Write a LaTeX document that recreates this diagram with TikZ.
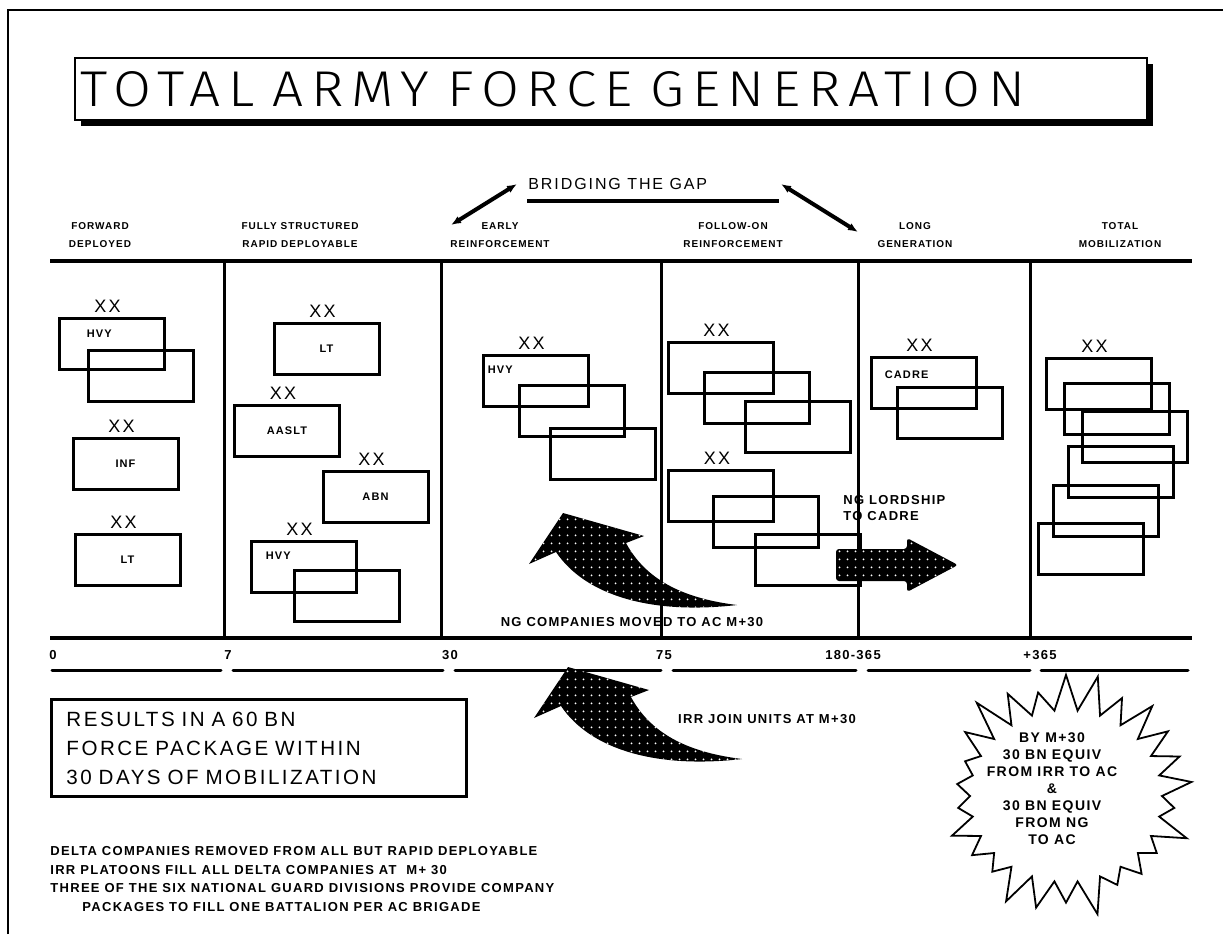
\documentclass[tikz,border=0pt]{standalone}
\usepackage{fontspec}
\usepackage{graphicx}
\setmainfont{Liberation Sans}
\newfontfamily\widefont[LetterSpace=12]{Liberation Sans}
\newfontfamily\notefont[LetterSpace=10]{Liberation Sans}
\newfontfamily\titlefont[LetterSpace=14]{Fira Sans Light}
\usetikzlibrary{arrows.meta, positioning, shapes.symbols, patterns.meta, shadows}

\tikzset{
  rule/.style={line width=2.2pt},
  colline/.style={line width=1.5pt},
  tick/.style={line width=1.5pt, line cap=round},
  unit/.style={draw, line width=1.5pt, minimum width=52.5pt, minimum height=25.5pt, inner sep=0pt,
    font=\notefont\bfseries\fontsize{5.5}{6}\selectfont},
  tag/.style={font=\notefont\bfseries\fontsize{5.5}{6}\selectfont, inner sep=0pt, anchor=west},
  xx/.style={font=\widefont\fontsize{9}{9}\selectfont, inner sep=0pt, xshift=-2pt},
  head/.style={font=\notefont\bfseries\fontsize{5}{9}\selectfont, align=center, inner sep=0pt},
  note/.style={font=\notefont\bfseries\fontsize{6.5}{8}\selectfont, inner sep=0pt},
  titlebox/.style={draw, fill=white, line width=0.7pt, minimum height=31pt, text width=530pt,
    align=left, inner xsep=3pt, font=\titlefont\fontsize{24}{24}\selectfont,
    drop shadow={shadow xshift=3pt, shadow yshift=-3pt, fill=black, opacity=1}},
  resultbox/.style={draw, line width=1.5pt, text width=192.5pt, align=left, inner xsep=7.5pt,
    minimum height=48.5pt, font=\widefont\fontsize{10.3}{14.5}\selectfont},
  burst/.style={draw, starburst, line width=0.9pt, minimum width=136pt, minimum height=126pt,
    starburst points=26, starburst point height=20pt, random starburst=17},
  stipple/.style={fill=black, postaction={pattern={Dots[distance=4pt, radius=0.55pt]}, pattern color=white}},
  bridgearrow/.style={line width=2pt, {Latex[length=5pt,width=4pt]}-{Latex[length=5pt,width=4pt]}},
  curvearrow/.pic={
    \fill[stipple] (563,513) -- (644,536) -- (626,543) .. controls (645,578) and (680,598) .. (737,605)
      .. controls (650,615) and (585,595) .. (556,552) -- (529,564) -- cycle;
  },
}

\begin{document}
\begin{tikzpicture}[x=0.5pt, y=-0.5pt]
  \useasboundingbox (0,0) rectangle (1223,934);
  % frame and title
  \draw[line width=1pt] (8,934) -- (8,10) -- (1223,10);
  \node[titlebox] (title) at (611,89) {\resizebox{472pt}{17.5pt}{TOTAL ARMY FORCE GENERATION}};

  % bridging the gap
  \node[font=\widefont\fontsize{8}{8}\selectfont, inner sep=0pt, anchor=west] (bridge) at (528,184) {BRIDGING THE GAP};
  \draw[line width=2pt] (527,201) -- (779,201);
  \coordinate (bridgeL) at (517,184);
  \coordinate (bridgeR) at (781,184);
  \coordinate (gapL) at (451,225);
  \coordinate (gapR) at (858,232);
  \draw[bridgearrow] (bridgeL) -- (gapL);
  \draw[bridgearrow] (bridgeR) -- (gapR);

  % column heads
  \node[head] (hfd) at (100,235) {FORWARD\\DEPLOYED};
  \node[head] (hrd) at (300,235) {FULLY STRUCTURED\\RAPID DEPLOYABLE};
  \node[head] (her) at (500,235) {EARLY\\REINFORCEMENT};
  \node[head] (hfo) at (733,235) {FOLLOW-ON\\REINFORCEMENT};
  \node[head] (hlg) at (915,235) {LONG\\GENERATION};
  \node[head] (htm) at (1120,235) {TOTAL\\MOBILIZATION};

  % forward deployed
  \node[unit] (fd1) at (111.5,344) {};
  \node[unit] (fd2) at (140.5,375.5) {};
  \node[unit] (fd3) at (125.5,464) {INF};
  \node[unit] (fd4) at (127.5,559.5) {LT};
  \node[tag] (fd1t) at ([shift={(29,17)}]fd1.north west) {HVY};
  \node[xx, above=2pt of fd1] (fd1x) {XX};
  \node[xx, above=2pt of fd3] (fd3x) {XX};
  \node[xx, above=2pt of fd4] (fd4x) {XX};

  % rapid deployable
  \node[unit] (rd1) at (326.5,348.5) {LT};
  \node[unit] (rd2) at (287,430.5) {AASLT};
  \node[unit] (rd3) at (375.5,496.5) {ABN};
  \node[unit] (rd4) at (303.5,566.5) {};
  \node[unit] (rd5) at (347,596) {};
  \node[tag] (rd4t) at ([shift={(16,16)}]rd4.north west) {HVY};
  \node[xx, above=2pt of rd1] (rd1x) {XX};
  \node[xx, above=2pt of rd2] (rd2x) {XX};
  \node[xx, above=2pt of rd3] (rd3x) {XX};
  \node[xx, above=2pt of rd4] (rd4x) {XX};

  % early reinforcement
  \node[unit] (er1) at (535.5,381) {};
  \node[unit] (er2) at (571.5,411) {};
  \node[unit] (er3) at (603,453.5) {};
  \node[tag] (er1t) at ([shift={(6,16)}]er1.north west) {HVY};
  \node[xx, above=2pt of er1] (er1x) {XX};

  % follow-on reinforcement
  \node[unit] (fo1) at (720.5,368) {};
  \node[unit] (fo2) at (756.5,397.5) {};
  \node[unit] (fo3) at (797.5,427) {};
  \node[unit] (fo4) at (721,496) {};
  \node[unit] (fo5) at (766,521.5) {};
  \node[unit] (fo6) at (807.5,559.5) {};
  \node[xx, above=2pt of fo1] (fo1x) {XX};
  \node[xx, above=2pt of fo4] (fo4x) {XX};

  % long generation
  \node[unit] (lg1) at (923.5,382.5) {};
  \node[unit] (lg2) at (950,413) {};
  \node[tag] (lg1t) at ([shift={(15,19)}]lg1.north west) {CADRE};
  \node[xx, above=2pt of lg1] (lg1x) {XX};

  % total mobilization
  \node[unit] (tm1) at (1098.5,383.5) {};
  \node[unit] (tm2) at (1116.5,408.5) {};
  \node[unit] (tm3) at (1134.5,437) {};
  \node[unit] (tm4) at (1121,471.5) {};
  \node[unit] (tm5) at (1106,510.5) {};
  \node[unit] (tm6) at (1090.5,549) {};
  \node[xx, above=2pt of tm1] (tm1x) {XX};

  % texts under the rules
  \node[note, anchor=west, align=left, font=\notefont\bfseries\fontsize{6.5}{8}\selectfont] (lordship) at (843,508) {NG LORDSHIP\\TO CADRE};
  \node[note] (ngmove) at (632,622) {NG COMPANIES MOVED TO AC M+30};
  \node[note] (irrjoin) at (767,719) {IRR JOIN UNITS AT M+30};

  % grid
  \draw[rule] (50,261) -- (1192,261);
  \draw[rule] (50,638) -- (1192,638);
  \draw[colline] (224,261) -- (224,638) (441,261) -- (441,638) (661,261) -- (661,638)
    (858,261) -- (858,638) (1030,261) -- (1030,638);

  % time scale
  \node[note, anchor=west] (t0) at (49,655) {0};
  \node[note] (t7) at (228,655) {7};
  \node[note] (t30) at (450,655) {30};
  \node[note] (t75) at (664,655) {75};
  \node[note] (t180) at (853,655) {180-365};
  \node[note] (t365) at (1040,655) {+365};
  \draw[tick] (52,670) -- (221,670) (233,670) -- (443,670) (455,670) -- (661,670)
    (673,670) -- (856,670) (868,670) -- (1030,670) (1041,670) -- (1188,670);

  % moves
  \pic at (0,0) {curvearrow};
  \pic at (5,154) {curvearrow};
  \fill[stipple, rounded corners=1.5pt] (836,549) -- (907,549) -- (907,538) -- (958,565)
    -- (907,592) -- (907,581) -- (836,581) -- cycle;

  % results and notes
  \node[resultbox, anchor=north west] (results) at (50,698) {RESULTS IN A 60 BN\\FORCE PACKAGE WITHIN\\30 DAYS OF MOBILIZATION};
  \node[note, anchor=north west, align=left, font=\notefont\bfseries\fontsize{6.5}{9.3}\selectfont] (notes) at (50,846)
    {DELTA COMPANIES REMOVED FROM ALL BUT RAPID DEPLOYABLE\\
     IRR PLATOONS FILL ALL DELTA COMPANIES AT\ \ M+ 30\\
     THREE OF THE SIX NATIONAL GUARD DIVISIONS PROVIDE COMPANY\\
     \hspace*{16pt}PACKAGES TO FILL ONE BATTALION PER AC BRIGADE};

  % starburst
  \node[burst] (burst) at (1066,796) {};
  \node[note, align=center, font=\notefont\bfseries\fontsize{7}{8.5}\selectfont] (bursttext) at (1052,789)
    {BY M+30\\30 BN EQUIV\\FROM IRR TO AC\\\&\\30 BN EQUIV\\FROM NG\\TO AC};
\end{tikzpicture}
\end{document}
